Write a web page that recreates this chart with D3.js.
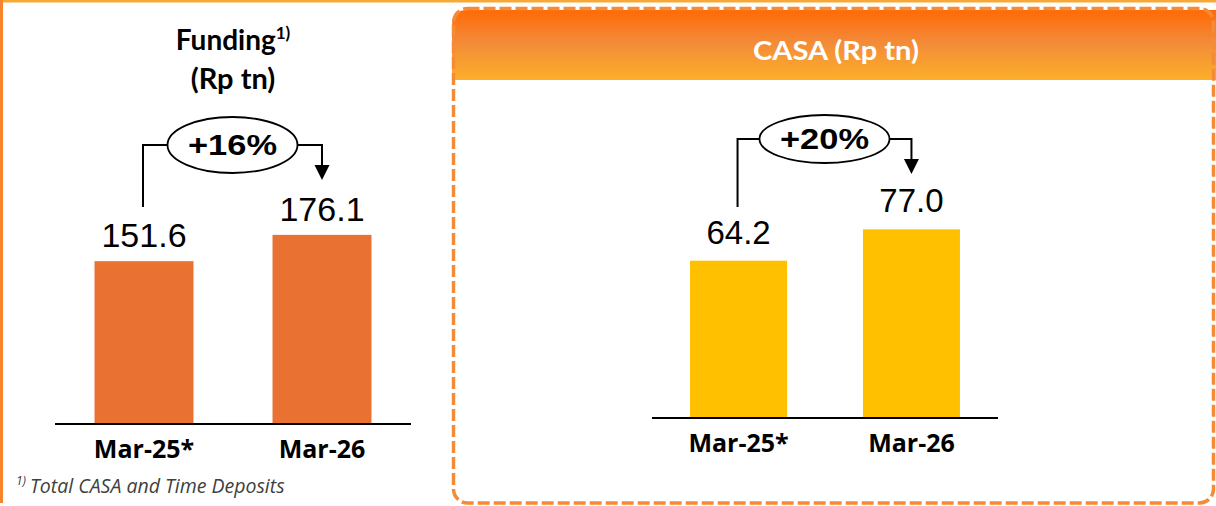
<!DOCTYPE html>
<html>
<head>
<meta charset="utf-8">
<script src="https://cdn.jsdelivr.net/npm/d3@7"></script>
<style>
  html, body { margin: 0; padding: 0; background: #fff; }
  svg { display: block; }
</style>
</head>
<body>
<svg id="chart" width="1216" height="506"></svg>
<script>
// ---- data ----
const categories = ["Mar-25*", "Mar-26"];
const fundingValues = [151.6, 176.1];
const casaValues = [64.2, 77.0];
const fundingGrowth = "+16%";
const casaGrowth = "+20%";
const fundingTitle = "Funding";
const fundingTitleSup = "1)";
const fundingUnit = "(Rp tn)";
const casaTitle = "CASA (Rp tn)";
const footnoteSup = "1)";
const footnoteText = "Total CASA and Time Deposits";

const svg = d3.select("#chart");
const defs = svg.append("defs");
const grad = defs.append("linearGradient").attr("id", "hdr").attr("x1", 0).attr("y1", 0).attr("x2", 0).attr("y2", 1);
grad.append("stop").attr("offset", "0%").attr("stop-color", "#FF6A06");
grad.append("stop").attr("offset", "45%").attr("stop-color", "#F38A38");
grad.append("stop").attr("offset", "100%").attr("stop-color", "#FCAF2A");

// ---- frame of left panel ----
svg.append("rect").attr("x", 0).attr("y", 0).attr("width", 1216).attr("height", 2.5).attr("fill", "#F9A834");
svg.append("rect").attr("x", 0).attr("y", 0).attr("width", 3).attr("height", 503).attr("fill", "#F5842A");

// ---- right panel frame ----
const hx = 452, hy = 10, hw = 1216 - 452, hh = 70, r = 15;
svg.append("path")
  .attr("d", `M${hx},${hy + hh} V${hy + r} Q${hx},${hy} ${hx + r},${hy} H${hx + hw} V${hy + hh} Z`)
  .attr("fill", "url(#hdr)");
svg.append("rect")
  .attr("x", 453.5).attr("y", 8.5).attr("width", 1213.5 - 453.5).attr("height", 503 - 8.5)
  .attr("rx", 14).attr("ry", 14)
  .attr("fill", "none").attr("stroke", "#F58B36").attr("stroke-width", 3.5)
  .attr("stroke-dasharray", "12 4");
svg.append("text").attr("x", 836).attr("y", 60).attr("text-anchor", "middle")
  .attr("font-family", "Lato, 'Open Sans', sans-serif").attr("font-weight", 700)
  .attr("font-size", 27).attr("fill", "#fff")
  .attr("textLength", 166).attr("lengthAdjust", "spacingAndGlyphs")
  .text(casaTitle);

// ---- left title ----
const t1 = svg.append("text").attr("x", 233).attr("y", 50).attr("text-anchor", "middle")
  .attr("font-family", "Lato, 'Open Sans', sans-serif").attr("font-weight", 700)
  .attr("font-size", 28).attr("fill", "#000");
t1.append("tspan").text(fundingTitle);
t1.append("tspan").attr("dy", -11).attr("font-size", 17).text(fundingTitleSup);
svg.append("text").attr("x", 233).attr("y", 89).attr("text-anchor", "middle")
  .attr("font-family", "Lato, 'Open Sans', sans-serif").attr("font-weight", 700)
  .attr("font-size", 29).attr("fill", "#000").text(fundingUnit);

// ---- footnote ----
const fn = svg.append("text").attr("x", 16).attr("y", 493)
  .attr("font-family", "'Open Sans', sans-serif").attr("font-style", "italic")
  .attr("font-size", 19.5).attr("fill", "#404040");
fn.append("tspan").attr("font-size", 12).attr("dy", -8).text(footnoteSup);
fn.append("tspan").attr("dy", 8).attr("dx", 4).text(footnoteText);

// ---- generic chart drawer ----
function drawChart(opts) {
  const { values, xRange, baseY, pxPerUnit, color, labelSize, labelGap, catBaseline, growth, ellipse } = opts;
  const x = d3.scaleBand().domain(categories).range(xRange).paddingInner(opts.pi).paddingOuter(opts.po);
  const y = d3.scaleLinear().domain([0, 100]).range([baseY, baseY - 100 * pxPerUnit]);
  const g = svg.append("g");

  g.selectAll("rect.bar").data(values).join("rect")
    .attr("x", (d, i) => x(categories[i]))
    .attr("y", d => y(d))
    .attr("width", x.bandwidth())
    .attr("height", d => y(0) - y(d))
    .attr("fill", color);

  // axis baseline
  const axis = d3.axisBottom(x).tickSize(0).tickPadding(0);
  const ag = g.append("g").attr("transform", `translate(0,${baseY})`).call(axis);
  ag.select(".domain").attr("stroke", "#000").attr("stroke-width", 1.8).attr("d", `M${xRange[0]},0H${xRange[1]}`);
  ag.selectAll(".tick text")
    .attr("y", catBaseline - baseY).attr("dy", 0)
    .attr("font-family", "'Open Sans', sans-serif").attr("font-weight", 700)
    .attr("font-size", 25).attr("fill", "#000");

  // value labels
  g.selectAll("text.val").data(values).join("text")
    .attr("class", "val")
    .attr("x", (d, i) => x(categories[i]) + x.bandwidth() / 2)
    .attr("y", d => y(d) - labelGap)
    .attr("text-anchor", "middle")
    .attr("font-family", "'Liberation Sans', Arial, sans-serif")
    .attr("font-size", labelSize).attr("fill", "#000")
    .text(d => d.toFixed(1));

  // growth connector
  const c0 = x(categories[0]) + x.bandwidth() / 2 - 1;
  const c1 = x(categories[1]) + x.bandwidth() / 2;
  const cx = (c0 + c1) / 2;
  const ey = ellipse.cy;
  g.append("path")
    .attr("d", `M${c0},${ellipse.startY} V${ey} H${cx - ellipse.rx}`)
    .attr("fill", "none").attr("stroke", "#000").attr("stroke-width", 2);
  g.append("path")
    .attr("d", `M${cx + ellipse.rx},${ey} H${c1} V${ellipse.tipY - 12}`)
    .attr("fill", "none").attr("stroke", "#000").attr("stroke-width", 2);
  g.append("path")
    .attr("d", `M${c1 - 7.5},${ellipse.tipY - 15} L${c1 + 7.5},${ellipse.tipY - 15} L${c1},${ellipse.tipY} Z`)
    .attr("fill", "#000");
  g.append("ellipse").attr("cx", cx).attr("cy", ey).attr("rx", ellipse.rx).attr("ry", ellipse.ry)
    .attr("fill", "#fff").attr("stroke", "#000").attr("stroke-width", 1.8);
  g.append("text").attr("x", cx).attr("y", ey + 10).attr("text-anchor", "middle")
    .attr("font-family", "'Liberation Sans', Arial, sans-serif").attr("font-weight", 700)
    .attr("font-size", 29).attr("fill", "#000")
    .attr("textLength", 89).attr("lengthAdjust", "spacingAndGlyphs")
    .text(growth);
}

drawChart({
  values: fundingValues, xRange: [55, 411], pi: 0.444, po: 0.222,
  baseY: 424, pxPerUnit: 1.074, color: "#E97132",
  labelSize: 34, labelGap: 14, catBaseline: 458, growth: fundingGrowth,
  ellipse: { cy: 145, rx: 65, ry: 28, startY: 207, tipY: 180 }
});
drawChart({
  values: casaValues, xRange: [652, 998], pi: 0.439, po: 0.22,
  baseY: 418, pxPerUnit: 2.45, color: "#FFC000",
  labelSize: 33, labelGap: 17, catBaseline: 452, growth: casaGrowth,
  ellipse: { cy: 139, rx: 65, ry: 24, startY: 207, tipY: 174 }
});
</script>
</body>
</html>
